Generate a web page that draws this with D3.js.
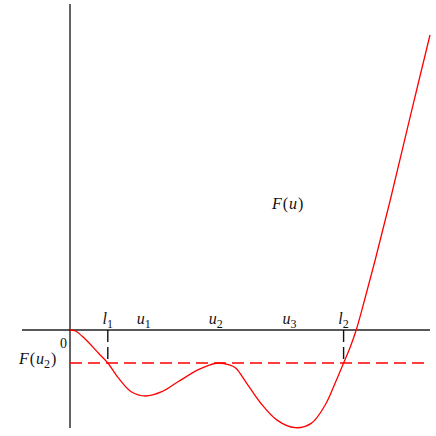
<!DOCTYPE html>
<html lang="en">
<head>
    <meta charset="UTF-8">
    <title>F(u)</title>
    <script src="https://d3js.org/d3.v7.min.js"></script>
    <style>
        body{
            margin: 0;
            background: white;
        }
        svg text{
            font-family: "Liberation Serif", "DejaVu Serif", serif;
            fill: #111;
        }
        .lbl{
            font-style: italic;
            font-size: 16px;
        }
    </style>
</head>
<body>
    <svg id="main" width="436" height="436" font-family="Liberation Serif, DejaVu Serif, serif"></svg>
    <script>
        // curve samples (u, F(u))
        const uPts = [0, 0.15, 0.4, 0.8, 1.05, 1.35, 1.7, 2.1, 2.55, 3.0, 3.55, 3.85, 4.15, 4.4, 4.6, 4.9, 5.3, 5.75, 6.25, 6.7, 7.1, 7.36, 7.6, 7.78, 7.95, 8.19, 8.47, 8.89, 9.44, 10]
        const fPts = [0, -0.03, -0.25, -0.71, -1.0, -1.46, -1.87, -2.0, -1.87, -1.57, -1.21, -1.07, -1.0, -1.05, -1.15, -1.6, -2.22, -2.73, -2.96, -2.83, -2.25, -1.62, -1.0, -0.53, 0, 0.94, 2.09, 3.91, 6.42, 8.94]

        // marked points on the u axis
        const markNames = ["l", "u", "u", "u", "l"]
        const markSubs = ["1", "1", "2", "3", "2"]
        const markU = [1.05, 2.05, 4.05, 6.1, 7.6]
        const levelF = -1   // F(u2)
        const lU = [1.05, 7.6]

        const svg = d3.select("#main")
        const x = d3.scaleLinear().domain([-4/3, 10]).range([22, 430])
        const y = d3.scaleLinear().domain([-3, 10]).range([429, 0])

        // axes
        svg.append("line")
            .attr("x1", x(-4/3)).attr("x2", x(10))
            .attr("y1", y(0)).attr("y2", y(0))
            .attr("stroke", "#222").attr("stroke-width", 1.4)
        svg.append("line")
            .attr("x1", x(0)).attr("x2", x(0))
            .attr("y1", y(9.88)).attr("y2", y(-2.97))
            .attr("stroke", "#222").attr("stroke-width", 1.4)

        // level line F(u2)
        svg.append("line")
            .attr("x1", x(0)).attr("x2", x(10))
            .attr("y1", y(levelF)).attr("y2", y(levelF))
            .attr("stroke", "red").attr("stroke-width", 1.3)
            .attr("stroke-dasharray", "12,6")

        // drops at l1, l2
        svg.selectAll(".drop")
            .data(lU)
            .join("line")
            .attr("class", "drop")
            .attr("x1", d => x(d)).attr("x2", d => x(d))
            .attr("y1", y(0)).attr("y2", y(levelF))
            .attr("stroke", "#111").attr("stroke-width", 1.4)
            .attr("stroke-dasharray", "12,5")

        // the curve
        const pts = uPts.map((u, i) => [u, fPts[i]])
        const line = d3.line()
            .x(d => x(d[0]))
            .y(d => y(d[1]))
            .curve(d3.curveCatmullRom.alpha(0.5))
        svg.append("path")
            .datum(pts)
            .attr("d", line)
            .attr("fill", "none")
            .attr("stroke", "red")
            .attr("stroke-width", 1.3)

        // labels on the axis
        const marks = svg.selectAll(".mark")
            .data(markNames)
            .join("text")
            .attr("class", "lbl mark")
            .attr("text-anchor", "middle")
            .attr("x", (d, i) => x(markU[i]))
            .attr("y", y(0) - 6)
        marks.append("tspan").text(d => d)
        marks.append("tspan")
            .attr("dy", 4)
            .attr("font-size", "12px")
            .attr("font-style", "normal")
            .text((d, i) => markSubs[i])

        // zero
        svg.append("text")
            .attr("x", x(0) - 3)
            .attr("y", y(0) + 18)
            .attr("text-anchor", "end")
            .attr("font-size", "14px")
            .text("0")

        // F(u2)
        const fl = svg.append("text")
            .attr("class", "lbl")
            .attr("x", 19)
            .attr("y", y(levelF) + 1)
        fl.append("tspan").text("F")
        fl.append("tspan").attr("font-style", "normal").attr("dx", 1).text("(")
        fl.append("tspan").attr("dx", 1).text("u")
        fl.append("tspan").attr("font-style", "normal").attr("font-size", "12px").attr("dy", 4).text("2")
        fl.append("tspan").attr("font-style", "normal").attr("dy", -4).attr("dx", 1).text(")")

        // F(u)
        const fu = svg.append("text")
            .attr("class", "lbl")
            .attr("x", 272)
            .attr("y", 209)
        fu.append("tspan").text("F")
        fu.append("tspan").attr("font-style", "normal").attr("dx", 1).text("(")
        fu.append("tspan").attr("dx", 1).text("u")
        fu.append("tspan").attr("font-style", "normal").attr("dx", 1).text(")")
    </script>
</body>
</html>
